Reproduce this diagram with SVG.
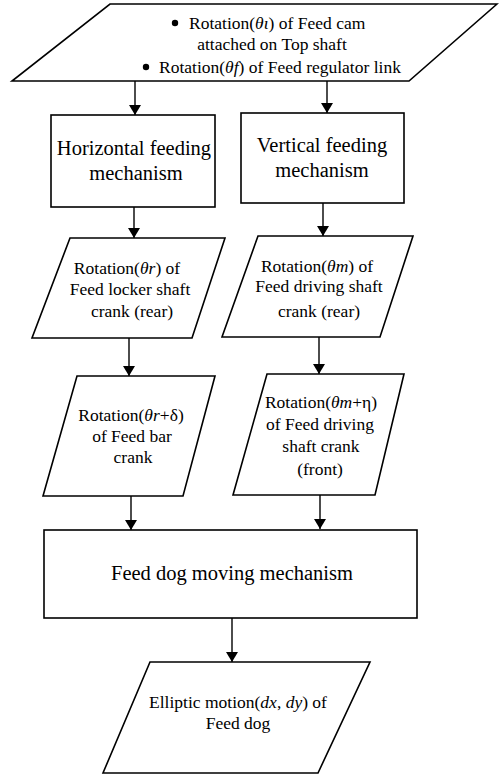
<svg xmlns="http://www.w3.org/2000/svg" width="499" height="782" viewBox="0 0 499 782" font-family="'Liberation Serif', 'DejaVu Serif', serif">
<defs>
<style>
.s{fill:#fff;stroke:#000;stroke-width:1.6}
.t{font-size:17.5px;fill:#000;text-anchor:middle}
.l{text-anchor:start}
.b{font-size:20.5px}
.i{font-style:italic}
.c{stroke:#000;stroke-width:1.4;fill:none}
</style>
<marker id="ah" viewBox="0 0 10 12" refX="10" refY="6" markerWidth="10" markerHeight="12" markerUnits="userSpaceOnUse" orient="auto">
<path d="M0,0 L10,6 L0,12 Z" fill="#000"/>
</marker>
</defs>
<rect width="499" height="782" fill="#fff"/>
<g id="connectors">
<line class="c" x1="135" y1="81" x2="135" y2="115" marker-end="url(#ah)"/>
<line class="c" x1="327" y1="81" x2="327" y2="113" marker-end="url(#ah)"/>
<line class="c" x1="134" y1="207" x2="134" y2="238" marker-end="url(#ah)"/>
<line class="c" x1="323" y1="203" x2="323" y2="236" marker-end="url(#ah)"/>
<line class="c" x1="129" y1="338" x2="129" y2="376" marker-end="url(#ah)"/>
<line class="c" x1="319" y1="337" x2="319" y2="374" marker-end="url(#ah)"/>
<line class="c" x1="131" y1="496" x2="131" y2="530" marker-end="url(#ah)"/>
<line class="c" x1="320" y1="495" x2="320" y2="529" marker-end="url(#ah)"/>
<line class="c" x1="232" y1="618" x2="232" y2="662" marker-end="url(#ah)"/>
</g>
<g id="input">
<polygon class="s" points="110,4 497,4 409,81 12,81"/>
<circle cx="175" cy="23" r="3.2"/>
<text class="t l" x="189" y="29">Rotation(<tspan class="i">θι</tspan>) of Feed cam</text>
<text class="t" x="272" y="50">attached on Top shaft</text>
<circle cx="146" cy="67" r="3.2"/>
<text class="t l" x="159" y="73">Rotation(<tspan class="i">θf</tspan>) of Feed regulator link</text>
</g>
<g id="horizontal">
<rect class="s" x="51" y="115" width="164" height="92"/>
<text class="t b" x="134" y="155">Horizontal feeding</text>
<text class="t b" x="136" y="180">mechanism</text>
</g>
<g id="vertical">
<rect class="s" x="241" y="113" width="163" height="90"/>
<text class="t b" x="322" y="152">Vertical feeding</text>
<text class="t b" x="322" y="177">mechanism</text>
</g>
<g id="rear-locker">
<polygon class="s" points="70,238 225,238 192,338 32,338"/>
<text class="t" x="127" y="274">Rotation(<tspan class="i">θr</tspan>) of</text>
<text class="t" x="130" y="295">Feed locker shaft</text>
<text class="t" x="132" y="317">crank (rear)</text>
</g>
<g id="rear-driving">
<polygon class="s" points="258,236 413,236 380,337 222,337"/>
<text class="t" x="317" y="272">Rotation(<tspan class="i">θm</tspan>) of</text>
<text class="t" x="319" y="292">Feed driving shaft</text>
<text class="t" x="319" y="317">crank (rear)</text>
</g>
<g id="bar-crank">
<polygon class="s" points="77,376 215,376 183,496 43,496"/>
<text class="t" x="131" y="421">Rotation(<tspan class="i">θr</tspan>+δ)</text>
<text class="t" x="132" y="442">of  Feed bar</text>
<text class="t" x="133" y="463">crank</text>
</g>
<g id="front-driving">
<polygon class="s" points="267,374 404,374 375,495 233,495"/>
<text class="t" x="321" y="408">Rotation(<tspan class="i">θm</tspan>+η)</text>
<text class="t" x="320" y="430">of  Feed driving</text>
<text class="t" x="321" y="452">shaft crank</text>
<text class="t" x="320" y="475">(front)</text>
</g>
<g id="feed-dog-mechanism">
<rect class="s" x="44" y="530" width="373" height="88"/>
<text class="t b" x="232" y="580">Feed dog moving mechanism</text>
</g>
<g id="output">
<polygon class="s" points="150,662 370,662 318,773 103,773"/>
<text class="t" x="238" y="708">Elliptic motion(<tspan class="i">dx</tspan>, <tspan class="i">dy</tspan>) of</text>
<text class="t" x="238" y="729">Feed dog</text>
</g>
</svg>
